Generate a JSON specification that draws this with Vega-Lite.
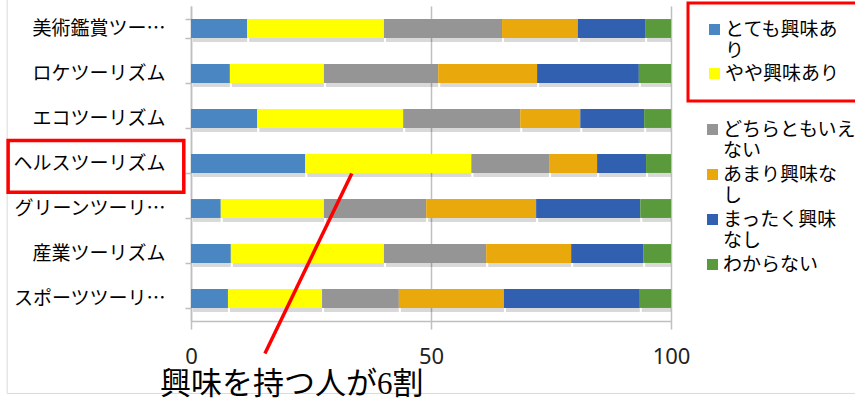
{
  "$schema": "https://vega.github.io/schema/vega-lite/v6.json",
  "width": 480,
  "height": 315,
  "autosize": "none",
  "padding": {"left": 191, "top": 6, "right": 184, "bottom": 78},
  "background": "#ffffff",
  "config": {"view": {"stroke": null}, "font": "Noto Sans CJK JP"},
  "title": {"text": "興味を持つ人が6割", "orient": "bottom", "anchor": "start", "frame": "group", "dx": -31, "offset": -24, "fontSize": 31, "fontWeight": "normal", "font": "Liberation Serif, Noto Sans CJK JP", "color": "#000000"},
  "resolve": {"scale": {"x": "independent", "y": "independent"}},
  "layer": [
    {
      "data": {"values": [
        {"item": "美術鑑賞ツーリズム", "cat": "とても興味あり", "value": 11.7},
        {"item": "美術鑑賞ツーリズム", "cat": "やや興味あり", "value": 28.5},
        {"item": "美術鑑賞ツーリズム", "cat": "どちらともいえない", "value": 24.6},
        {"item": "美術鑑賞ツーリズム", "cat": "あまり興味なし", "value": 15.8},
        {"item": "美術鑑賞ツーリズム", "cat": "まったく興味なし", "value": 14.0},
        {"item": "美術鑑賞ツーリズム", "cat": "わからない", "value": 5.4},
        {"item": "ロケツーリズム", "cat": "とても興味あり", "value": 8.1},
        {"item": "ロケツーリズム", "cat": "やや興味あり", "value": 19.6},
        {"item": "ロケツーリズム", "cat": "どちらともいえない", "value": 23.8},
        {"item": "ロケツーリズム", "cat": "あまり興味なし", "value": 20.6},
        {"item": "ロケツーリズム", "cat": "まったく興味なし", "value": 21.2},
        {"item": "ロケツーリズム", "cat": "わからない", "value": 6.7},
        {"item": "エコツーリズム", "cat": "とても興味あり", "value": 13.8},
        {"item": "エコツーリズム", "cat": "やや興味あり", "value": 30.4},
        {"item": "エコツーリズム", "cat": "どちらともいえない", "value": 24.4},
        {"item": "エコツーリズム", "cat": "あまり興味なし", "value": 12.5},
        {"item": "エコツーリズム", "cat": "まったく興味なし", "value": 13.3},
        {"item": "エコツーリズム", "cat": "わからない", "value": 5.6},
        {"item": "ヘルスツーリズム", "cat": "とても興味あり", "value": 23.8},
        {"item": "ヘルスツーリズム", "cat": "やや興味あり", "value": 34.6},
        {"item": "ヘルスツーリズム", "cat": "どちらともいえない", "value": 16.2},
        {"item": "ヘルスツーリズム", "cat": "あまり興味なし", "value": 10.0},
        {"item": "ヘルスツーリズム", "cat": "まったく興味なし", "value": 10.2},
        {"item": "ヘルスツーリズム", "cat": "わからない", "value": 5.2},
        {"item": "グリーンツーリズム", "cat": "とても興味あり", "value": 6.2},
        {"item": "グリーンツーリズム", "cat": "やや興味あり", "value": 21.5},
        {"item": "グリーンツーリズム", "cat": "どちらともいえない", "value": 21.3},
        {"item": "グリーンツーリズム", "cat": "あまり興味なし", "value": 22.9},
        {"item": "グリーンツーリズム", "cat": "まったく興味なし", "value": 21.7},
        {"item": "グリーンツーリズム", "cat": "わからない", "value": 6.4},
        {"item": "産業ツーリズム", "cat": "とても興味あり", "value": 8.3},
        {"item": "産業ツーリズム", "cat": "やや興味あり", "value": 31.9},
        {"item": "産業ツーリズム", "cat": "どちらともいえない", "value": 21.3},
        {"item": "産業ツーリズム", "cat": "あまり興味なし", "value": 17.7},
        {"item": "産業ツーリズム", "cat": "まったく興味なし", "value": 15.0},
        {"item": "産業ツーリズム", "cat": "わからない", "value": 5.8},
        {"item": "スポーツツーリズム", "cat": "とても興味あり", "value": 7.7},
        {"item": "スポーツツーリズム", "cat": "やや興味あり", "value": 19.6},
        {"item": "スポーツツーリズム", "cat": "どちらともいえない", "value": 16.0},
        {"item": "スポーツツーリズム", "cat": "あまり興味なし", "value": 21.9},
        {"item": "スポーツツーリズム", "cat": "まったく興味なし", "value": 28.3},
        {"item": "スポーツツーリズム", "cat": "わからない", "value": 6.5}
      ]},
      "transform": [{"stack": "value", "groupby": ["item"], "as": ["v0", "v1"]}],
      "resolve": {"scale": {"color": "independent"}},
      "layer": [
        {
          "mark": {"type": "bar", "color": "#000000", "opacity": 0.15, "xOffset": 2, "yOffset": 4},
          "encoding": {
            "y": {"field": "item", "type": "nominal", "sort": ["美術鑑賞ツーリズム", "ロケツーリズム", "エコツーリズム", "ヘルスツーリズム", "グリーンツーリズム", "産業ツーリズム", "スポーツツーリズム"],
              "scale": {"paddingInner": 0.58, "paddingOuter": 0.29},
              "axis": {"title": null, "labelFontSize": 19, "labelColor": "#000000", "labelPadding": 20, "labelLimit": 300, "tickBand": "extent", "tickSize": 6, "tickColor": "#bfbfbf", "domainColor": "#bfbfbf", "domainWidth": 1.5, "tickWidth": 1.5,
                "labelExpr": "datum.label == '美術鑑賞ツーリズム' ? '美術鑑賞ツー…' : datum.label == 'グリーンツーリズム' ? 'グリーンツーリ…' : datum.label == 'スポーツツーリズム' ? 'スポーツツーリ…' : datum.label"}},
            "x": {"field": "v0", "type": "quantitative", "scale": {"domain": [0, 100]},
              "axis": {"title": null, "values": [0, 50, 100], "grid": true, "gridColor": "#bfbfbf", "gridWidth": 1.5, "domainColor": "#bfbfbf", "domainWidth": 1.5, "tickColor": "#bfbfbf", "tickWidth": 1.5, "tickSize": 8, "labelFontSize": 22, "labelColor": "#222222", "labelPadding": 17, "labelFlush": false, "labelFont": "Noto Sans"}},
            "x2": {"field": "v1"}
          }
        },
        {
          "transform": [{"filter": {"field": "cat", "oneOf": ["とても興味あり", "やや興味あり"]}}],
          "mark": {"type": "bar"},
          "encoding": {
            "y": {"field": "item", "type": "nominal", "sort": ["美術鑑賞ツーリズム", "ロケツーリズム", "エコツーリズム", "ヘルスツーリズム", "グリーンツーリズム", "産業ツーリズム", "スポーツツーリズム"]},
            "x": {"field": "v0", "type": "quantitative"},
            "x2": {"field": "v1"},
            "color": {"field": "cat", "type": "nominal",
              "scale": {"domain": ["とても興味あり", "やや興味あり"], "range": ["#4a86c2", "#ffff00"]},
              "legend": {"title": null, "orient": "none", "legendX": 497, "legendY": -3, "padding": 17, "strokeColor": "#ff0000",
                "symbolType": "square", "symbolSize": 121, "symbolStrokeWidth": 0, "labelFontSize": 19, "labelColor": "#000000", "labelLimit": 400, "labelOffset": 1, "rowPadding": 3,
                "labelExpr": "datum.label == 'とても興味あり' ? ['とても興味あ', 'り'] : datum.label",
                "encode": {"legend": {"update": {"strokeWidth": {"value": 3}}}}}}
          }
        },
        {
          "transform": [{"filter": {"not": {"field": "cat", "oneOf": ["とても興味あり", "やや興味あり"]}}}],
          "mark": {"type": "bar"},
          "encoding": {
            "y": {"field": "item", "type": "nominal", "sort": ["美術鑑賞ツーリズム", "ロケツーリズム", "エコツーリズム", "ヘルスツーリズム", "グリーンツーリズム", "産業ツーリズム", "スポーツツーリズム"]},
            "x": {"field": "v0", "type": "quantitative"},
            "x2": {"field": "v1"},
            "color": {"field": "cat", "type": "nominal",
              "scale": {"domain": ["どちらともいえない", "あまり興味なし", "まったく興味なし", "わからない"], "range": ["#959595", "#e9a80c", "#3260b0", "#5b9a3c"]},
              "legend": {"title": null, "orient": "none", "legendX": 497, "legendY": 99, "padding": 15,
                "symbolType": "square", "symbolSize": 121, "symbolStrokeWidth": 0, "labelFontSize": 19, "labelColor": "#000000", "labelLimit": 400, "labelOffset": 1, "rowPadding": 4,
                "labelExpr": "datum.label == 'どちらともいえない' ? ['どちらともいえ', 'ない'] : datum.label == 'あまり興味なし' ? ['あまり興味な', 'し'] : datum.label == 'まったく興味なし' ? ['まったく興味', 'なし'] : datum.label"}}
          }
        }
      ]
    },
    {
      "data": {"values": [{"note": "annotation"}]},
      "layer": [
        {
          "mark": {"type": "rect", "fill": null, "stroke": "#d9d9d9", "strokeWidth": 1, "clip": false},
          "encoding": {
            "x": {"datum": -38.3, "type": "quantitative", "scale": {"domain": [0, 100]}, "axis": null},
            "x2": {"datum": 140},
            "y": {"datum": -1, "type": "quantitative", "scale": {"domain": [0, 7], "reverse": true}, "axis": null},
            "y2": {"datum": 8.61}
          }
        },
        {
          "mark": {"type": "rect", "fill": null, "stroke": "#ff0000", "strokeWidth": 3.5, "clip": false},
          "encoding": {
            "x": {"datum": -38.1, "type": "quantitative", "scale": {"domain": [0, 100]}, "axis": null},
            "x2": {"datum": -1.5},
            "y": {"datum": 2.99, "type": "quantitative", "scale": {"domain": [0, 7], "reverse": true}, "axis": null},
            "y2": {"datum": 4.14}
          }
        },
        {
          "mark": {"type": "rule", "color": "#ff0000", "strokeWidth": 3.5, "clip": false},
          "encoding": {
            "x": {"datum": 33.5, "type": "quantitative", "scale": {"domain": [0, 100]}, "axis": null},
            "x2": {"datum": 15.4},
            "y": {"datum": 3.72, "type": "quantitative", "scale": {"domain": [0, 7], "reverse": true}, "axis": null},
            "y2": {"datum": 7.72}
          }
        }
      ]
    }
  ]
}
